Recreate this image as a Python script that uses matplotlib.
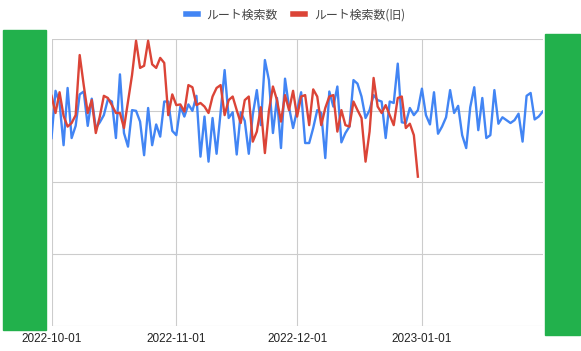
import numpy as np
import pandas as pd
import matplotlib
matplotlib.use("Agg")
import matplotlib.pyplot as plt
import matplotlib.dates as mdates
from matplotlib.patches import Rectangle

W, H = 581, 351

series_names = ["ルート検索数", "ルート検索数(旧)"]
start_date = "2022-10-01"
tick_dates = ["2022-10-01", "2022-11-01", "2022-12-01", "2023-01-01"]

# daily values, 2022-10-01 .. 2023-01-31 (y axis labels are hidden in the source)
route_new = [
    262, 328, 311, 252, 332, 262, 279, 323, 327, 279, 317, 276, 284, 294, 316, 313,
    262, 351, 269, 250, 301, 300, 285, 238, 304, 252, 281, 264, 313, 313, 272, 266,
    306, 292, 309, 300, 321, 236, 292, 229, 290, 240, 298, 357, 290, 298, 239, 298,
    286, 240, 295, 329, 280, 371, 343, 269, 318, 248, 345, 305, 276, 301, 326, 255,
    255, 276, 301, 297, 234, 327, 306, 334, 256, 269, 278, 343, 338, 320, 290, 301,
    322, 315, 313, 262, 313, 311, 366, 284, 283, 304, 294, 301, 331, 294, 281, 326,
    268, 278, 291, 329, 297, 307, 266, 248, 305, 333, 273, 318, 262, 266, 329, 282,
    291, 287, 283, 287, 296, 257, 321, 325, 288, 292, 299,
]
# daily values, 2022-10-01 .. 2022-12-31
route_old = [
    321, 297, 326, 293, 278, 283, 294, 378, 336, 297, 315, 269, 292, 321, 318, 308,
    297, 297, 276, 313, 350, 398, 360, 363, 398, 365, 360, 374, 367, 294, 323, 308,
    309, 299, 336, 333, 308, 311, 306, 297, 320, 332, 336, 294, 315, 320, 301, 283,
    315, 320, 257, 271, 305, 241, 300, 334, 315, 285, 322, 301, 328, 292, 320, 322,
    280, 330, 320, 280, 304, 320, 322, 271, 301, 280, 278, 313, 301, 290, 229, 271,
    346, 306, 297, 308, 294, 280, 318, 320, 276, 282, 266, 208,
]
y_max = 400
y_step = 100

dates_new = pd.date_range(start_date, periods=len(route_new), freq="D")
dates_old = pd.date_range(start_date, periods=len(route_old), freq="D")

plt.rcParams['font.family'] = ['Noto Sans CJK JP', 'DejaVu Sans']

fig = plt.figure(figsize=(W / 100, H / 100), dpi=100)
ax = fig.add_axes([51.5 / W, 25.5 / H, (542.7 - 51.5) / W, (325.5 - 39.3) / H])

l1, = ax.plot(dates_new, route_new, color="#4285F4", lw=1.7, label=series_names[0], zorder=3)
l2, = ax.plot(dates_old, route_old, color="#DB4437", lw=1.7, label=series_names[1], zorder=4)

ax.set_xlim(pd.Timestamp(start_date), dates_new[-1])
ax.set_ylim(0, y_max)
ax.set_yticks(np.arange(0, y_max + 1, y_step))
ax.set_xticks(pd.to_datetime(tick_dates))
ax.xaxis.set_major_formatter(mdates.DateFormatter("%Y-%m-%d"))
ax.tick_params(axis="y", left=False, labelleft=False)
ax.tick_params(axis="x", length=0, pad=5.5, labelsize=8.5, labelcolor="#222222")
for lab in ax.get_xticklabels():
    lab.set_fontfamily(["Liberation Sans", "DejaVu Sans"])
ax.grid(True, color="#cccccc", lw=0.8)
ax.set_axisbelow(True)
for s in ax.spines.values():
    s.set_visible(False)

leg = fig.legend(handles=[l1, l2], loc="center", bbox_to_anchor=(295.5 / W, 1 - 15 / H),
                 ncol=2, frameon=False, fontsize=8.6, handlelength=1.0,
                 handletextpad=0.75, columnspacing=1.3, borderpad=0)
for line in leg.get_lines():
    line.set_linewidth(4)
for t in leg.get_texts():
    t.set_color("#444444")

# green masking blocks over the y-axis label areas
for (x0, y0, x1, y1) in [(3, 30, 46, 330), (545, 33.5, 580, 335)]:
    fig.add_artist(Rectangle((x0 / W, 1 - y1 / H), (x1 - x0) / W, (y1 - y0) / H,
                             transform=fig.transFigure, color="#22B14C", zorder=10))

fig.savefig("out.png", dpi=100)
